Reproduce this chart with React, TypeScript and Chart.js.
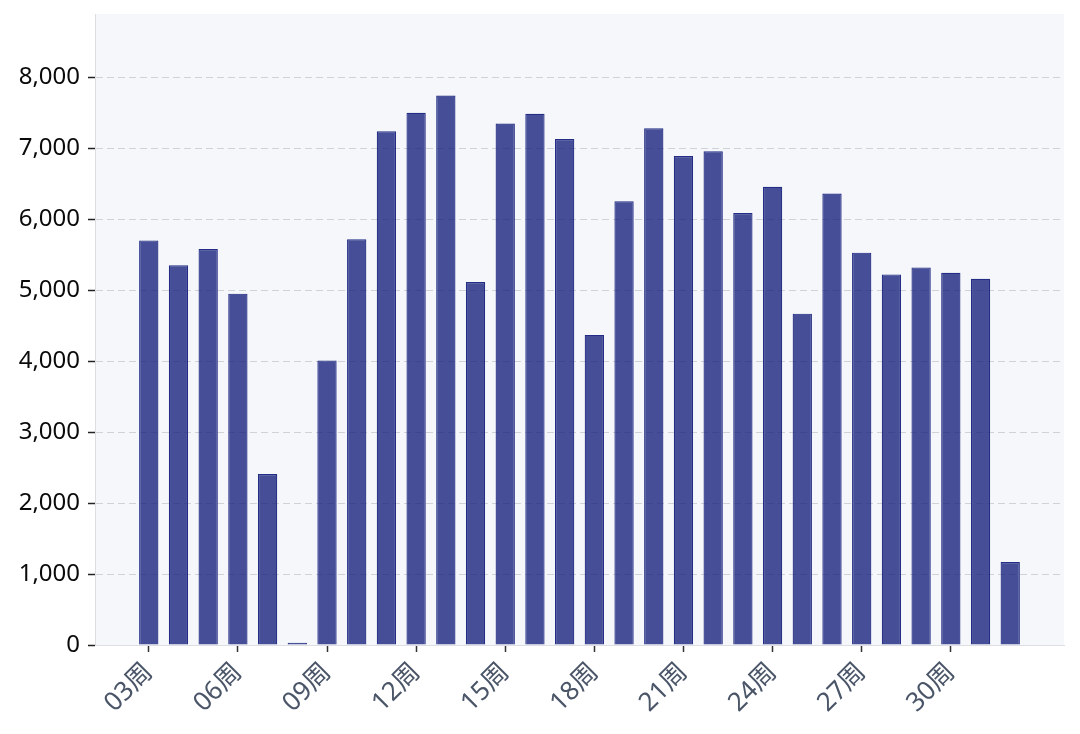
import { useEffect, useRef } from "react";
import { Chart, registerables } from "chart.js";

Chart.register(...registerables);

// 周次
const weekLabels = [
    "03周", "04周", "05周", "06周", "07周", "08周", "09周", "10周", "11周", "12周",
    "13周", "14周", "15周", "16周", "17周", "18周", "19周", "20周", "21周", "22周",
    "23周", "24周", "25周", "26周", "27周", "28周", "29周", "30周", "31周", "32周",
];

// 每周数值
const weeklyValues = [
    5700, 5350, 5580, 4950, 2410, 30, 4010, 5715, 7238, 7497,
    7741, 5113, 7346, 7483, 7129, 4369, 6253, 7281, 6889, 6955,
    6085, 6455, 4668, 6360, 5528, 5221, 5320, 5245, 5160, 1169,
];

const xTickLabels = ["03周", "06周", "09周", "12周", "15周", "18周", "21周", "24周", "27周", "30周"];
const yTickValues = [0, 1000, 2000, 3000, 4000, 5000, 6000, 7000, 8000];

const FONT = "'Noto Sans', 'Noto Sans CJK SC', sans-serif";

const plotBackground = {
    id: "plotBackground",
    beforeDraw(chart: any) {
        const { ctx, chartArea } = chart;
        ctx.save();
        ctx.fillStyle = "#f5f7fa";
        ctx.fillRect(chartArea.left, chartArea.top, chartArea.right - chartArea.left, chartArea.bottom - chartArea.top);
        ctx.restore();
    },
};

const WeeklyBarChart = () => {
    const chartRef = useRef<HTMLCanvasElement>(null);
    const chartInstance = useRef<Chart | null>(null);

    useEffect(() => {
        if (!chartRef.current) return;

        const data = {
            datasets: [
                {
                    label: "周数据",
                    data: weeklyValues.map((v, i) => ({ x: i, y: v })),
                    backgroundColor: "rgba(26, 35, 126, 0.8)",
                    borderColor: "#232d85",
                    borderWidth: 1.2,
                    barPercentage: 0.65,
                    categoryPercentage: 1,
                },
            ],
        };

        const config = {
            type: "bar",
            data,
            plugins: [plotBackground],
            options: {
                animation: false,
                responsive: true,
                maintainAspectRatio: false,
                layout: { padding: { top: 14, right: 16, left: 0, bottom: 0 } },
                plugins: {
                    legend: { display: false },
                    tooltip: { enabled: false },
                },
                scales: {
                    x: {
                        type: "linear",
                        min: -1.81,
                        max: 30.81,
                        offset: false,
                        afterBuildTicks: (scale: any) => {
                            scale.ticks = xTickLabels.map((l) => ({ value: weekLabels.indexOf(l) }));
                        },
                        afterFit: (scale: any) => {
                            scale.height = 89;
                            scale.paddingLeft = 0;
                            scale.paddingRight = 0;
                        },
                        grid: {
                            display: true,
                            offset: false,
                            drawOnChartArea: false,
                            drawTicks: true,
                            tickLength: 7,
                            tickColor: "#333333",
                            tickWidth: 1.5,
                        },
                        border: { display: true, color: "#dcdee2", width: 1 },
                        ticks: {
                            autoSkip: false,
                            minRotation: 45,
                            maxRotation: 45,
                            padding: 5,
                            color: "#4a5568",
                            font: { family: FONT, size: 26 },
                            callback: (v: any) => weekLabels[Math.round(v)] ?? "",
                        },
                    },
                    y: {
                        min: 0,
                        max: 8890,
                        afterBuildTicks: (scale: any) => {
                            scale.ticks = yTickValues.map((v) => ({ value: v }));
                        },
                        afterFit: (scale: any) => {
                            scale.width = 95;
                            scale.paddingTop = 0;
                            scale.paddingBottom = 0;
                        },
                        grid: {
                            color: "#cfd2d6",
                            drawTicks: true,
                            tickLength: 7,
                            tickColor: "#222222",
                            tickWidth: 1.5,
                            tickBorderDash: [],
                        },
                        border: { display: true, color: "#dcdee2", width: 1, dash: [7, 4] },
                        ticks: {
                            padding: 8,
                            color: "#0a0a0a",
                            font: { family: FONT, size: 24 },
                            callback: (v: any) => Number(v).toLocaleString("en-US"),
                        },
                    },
                },
            },
        };

        if (chartInstance.current) {
            chartInstance.current.destroy();
        }
        const ctx = chartRef.current.getContext("2d");
        if (ctx) {
            chartInstance.current = new Chart(ctx, config as any);
        }

        return () => {
            if (chartInstance.current) {
                chartInstance.current.destroy();
                chartInstance.current = null;
            }
        };
    }, []);

    return <canvas ref={chartRef} />;
};

export default function App() {
    return (
        <div style={{ position: "fixed", left: 0, top: 0, width: 1080, height: 734, background: "#ffffff" }}>
            <WeeklyBarChart />
        </div>
    );
}
